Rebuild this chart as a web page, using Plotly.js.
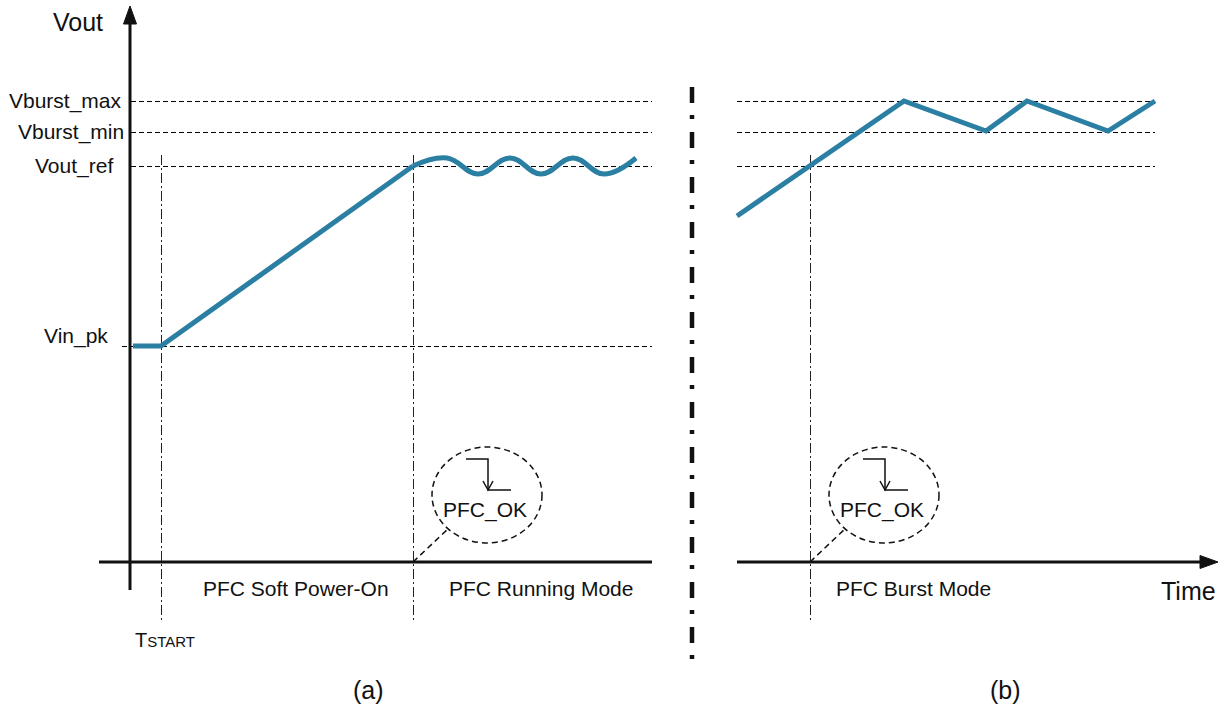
<!DOCTYPE html>
<html><head><meta charset="utf-8">
<script src="https://cdn.plot.ly/plotly-3.0.1.min.js"></script>
<style>html,body{margin:0;padding:0;background:#fff}#chart{width:1232px;height:709px}</style>
</head><body><div id="chart"></div>
<script>
// ---- data (time units along the time axis, voltage units above it) ----
const levelNames  = ['Vburst_max', 'Vburst_min', 'Vout_ref', 'Vin_pk'];
const levelValues = [461, 430, 396, 216];

const eventNames = ['TSTART', 'PFC_OK_a', 'PFC_OK_b'];
const eventTimes = [31, 283, 680];

// panel (a) soft power-on ramp
const rampTime = [3, 31, 283];
const rampVout = [216, 216, 396];
// panel (a) running mode ripple
const rippleTime = [283, 317, 348, 380, 411, 443, 474, 506];
const rippleVout = [396, 404, 388, 404, 388, 404, 388, 404];
// panel (b) burst mode
const burstTime = [607, 774, 856, 897, 978, 1025];
const burstVout = [346, 461, 431, 461, 431, 461];

const phaseNames = ['PFC Soft Power-On', 'PFC Running Mode', 'PFC Burst Mode'];
const panelNames = ['(a)', '(b)'];

// ---- drawing ----
const FONT = '"Liberation Sans", Arial, sans-serif';
const BLUE = '#2b7fa3';
const INK = '#111111';
const CRISP = 0.5; // half-pixel offset so thin lines render sharp

const traces = [
  {x: rampTime, y: rampVout, mode: 'lines', line: {color: BLUE, width: 5}, hoverinfo: 'skip'},
  {x: rippleTime, y: rippleVout, mode: 'lines', line: {color: BLUE, width: 5, shape: 'spline', smoothing: 1.2}, hoverinfo: 'skip'},
  {x: burstTime, y: burstVout, mode: 'lines', line: {color: BLUE, width: 5}, hoverinfo: 'skip'}
];

const shapes = [];
const ann = [];
const dashH = {color: '#000', width: 1, dash: '5px,3px'};
const dashV = {color: '#222', width: 1, dash: '10px,3px,2px,3px'};

// level lines
levelNames.forEach((n, i) => {
  const v = levelValues[i] - CRISP;
  shapes.push({type: 'line', x0: n === 'Vin_pk' ? -8 : 1, x1: 522, y0: v, y1: v, line: dashH, layer: 'below'});
  if (n !== 'Vin_pk') shapes.push({type: 'line', x0: 607, x1: 1025, y0: v, y1: v, line: dashH, layer: 'below'});
});
// level labels
const labelRight = {Vburst_max: 124, Vburst_min: 126, Vout_ref: 115, Vin_pk: 110};
const labelDy = {Vburst_max: 0, Vburst_min: 0, Vout_ref: 0, Vin_pk: 10};
levelNames.forEach((n, i) => {
  ann.push({x: labelRight[n] - 130, y: levelValues[i] + labelDy[n], text: n, xanchor: 'right', yanchor: 'middle',
            showarrow: false, font: {family: FONT, size: 21, color: INK}});
});

// event vertical lines
eventTimes.forEach(t => {
  shapes.push({type: 'line', x0: t + CRISP, x1: t + CRISP, y0: 407, y1: -60, line: dashV, layer: 'below'});
});

// axes
shapes.push({type: 'line', x0: 0, x1: 0, y0: -28, y1: 545, line: {color: INK, width: 3}});
shapes.push({type: 'path', path: 'M -6.5,538 L 0,556 L 6.5,538 Z', fillcolor: INK, line: {color: INK, width: 1}});
shapes.push({type: 'line', x0: -31, x1: 522, y0: 0, y1: 0, line: {color: INK, width: 3}});
shapes.push({type: 'line', x0: 607, x1: 1078, y0: 0, y1: 0, line: {color: INK, width: 3}});
shapes.push({type: 'path', path: 'M 1070,-6.5 L 1088,0 L 1070,6.5 Z', fillcolor: INK, line: {color: INK, width: 1}});

// separator between panels
shapes.push({type: 'line', x0: 562, x1: 562, y0: 475, y1: -98, line: {color: INK, width: 4.5, dash: '16px,12px,4px,13px'}});

// PFC_OK callouts
[eventTimes[1], eventTimes[2]].forEach(t => {
  const cx = t + 74, cy = 67;
  shapes.push({type: 'circle', x0: cx - 55, x1: cx + 55, y0: cy - 48, y1: cy + 48,
               line: {color: INK, width: 1.5, dash: '6px,4px'}});
  shapes.push({type: 'line', x0: t, y0: 0, x1: t + 36, y1: 34, line: {color: INK, width: 1.5, dash: '6px,4px'}});
  shapes.push({type: 'path', path: `M ${cx - 21},${cy + 36} L ${cx + 1},${cy + 36} L ${cx + 1},${cy + 5} L ${cx + 24},${cy + 5}`,
               line: {color: INK, width: 1.5}});
  shapes.push({type: 'path', path: `M ${cx - 4},${cy + 14} L ${cx + 1},${cy + 5} L ${cx + 6},${cy + 14}`,
               line: {color: INK, width: 1.5}});
  ann.push({x: cx - 2, y: cy - 15, text: 'PFC_OK', showarrow: false, xanchor: 'center', yanchor: 'middle',
            font: {family: FONT, size: 21, color: INK}});
});

// phase labels
const phaseX = [166, 411, 783];
phaseNames.forEach((n, i) => {
  ann.push({x: phaseX[i], y: -26, text: n, showarrow: false, xanchor: 'center', yanchor: 'middle',
            font: {family: FONT, size: 21, color: INK}});
});
// panel labels
const panelX = [238, 875];
panelNames.forEach((n, i) => {
  ann.push({x: panelX[i], y: -128, text: n, showarrow: false, xanchor: 'center', yanchor: 'middle',
            font: {family: FONT, size: 25, color: INK}});
});
// axis titles
ann.push({x: -52, y: 540, text: 'Vout', showarrow: false, xanchor: 'center', yanchor: 'middle',
          font: {family: FONT, size: 25, color: INK}});
ann.push({x: 1058, y: -29, text: 'Time', showarrow: false, xanchor: 'center', yanchor: 'middle',
          font: {family: FONT, size: 25, color: INK}});
// TSTART
ann.push({x: 3, y: -78, text: 'T<span style="font-size:15px">START</span>', showarrow: false,
          xanchor: 'left', yanchor: 'middle', font: {family: FONT, size: 20, color: INK}});

const layout = {
  width: 1232, height: 709,
  margin: {l: 0, r: 0, t: 0, b: 0},
  paper_bgcolor: '#fff', plot_bgcolor: '#fff',
  showlegend: false,
  xaxis: {range: [-130, 1102], visible: false, fixedrange: true},
  yaxis: {range: [-147, 562], visible: false, fixedrange: true},
  shapes: shapes,
  annotations: ann
};
Plotly.newPlot('chart', traces, layout, {displayModeBar: false, staticPlot: true});
</script>
</body></html>
